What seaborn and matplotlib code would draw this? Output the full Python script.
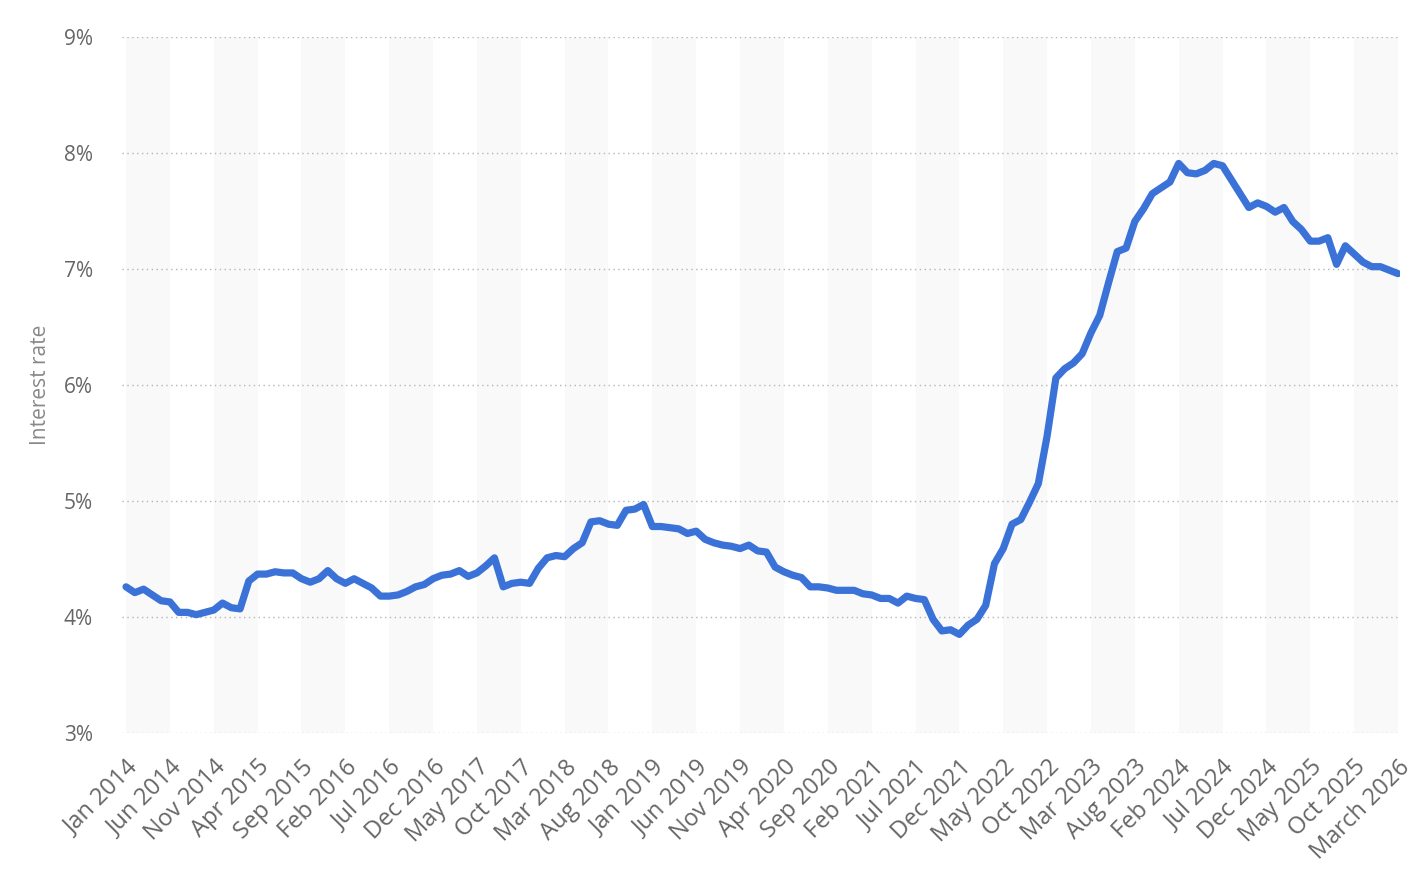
import matplotlib
matplotlib.use("Agg")
import matplotlib.pyplot as plt
import seaborn as sns
import pandas as pd
import numpy as np

# Monthly interest rate values (%), Jan 2014 - March 2026 (146 observations)
rates = [
    4.26, 4.21, 4.24, 4.19, 4.14, 4.13, 4.04, 4.04, 4.02, 4.04,
    4.06, 4.12, 4.08, 4.07, 4.31, 4.37, 4.37, 4.39, 4.38, 4.38,
    4.33, 4.30, 4.33, 4.40, 4.33, 4.29, 4.33, 4.29, 4.25, 4.18,
    4.18, 4.19, 4.22, 4.26, 4.28, 4.33, 4.36, 4.37, 4.40, 4.35,
    4.38, 4.44, 4.51, 4.26, 4.29, 4.30, 4.29, 4.42, 4.51, 4.53,
    4.52, 4.59, 4.64, 4.82, 4.83, 4.80, 4.79, 4.92, 4.93, 4.97,
    4.78, 4.78, 4.77, 4.76, 4.72, 4.74, 4.67, 4.64, 4.62, 4.61,
    4.59, 4.62, 4.57, 4.56, 4.43, 4.39, 4.36, 4.34, 4.26, 4.26,
    4.25, 4.23, 4.23, 4.23, 4.20, 4.19, 4.16, 4.16, 4.12, 4.18,
    4.16, 4.15, 3.98, 3.88, 3.89, 3.85, 3.93, 3.98, 4.10, 4.46,
    4.59, 4.80, 4.84, 4.99, 5.15, 5.56, 6.06, 6.14, 6.19, 6.27,
    6.45, 6.60, 6.88, 7.15, 7.18, 7.41, 7.52, 7.65, 7.70, 7.75,
    7.91, 7.83, 7.82, 7.85, 7.91, 7.89, 7.77, 7.65, 7.53, 7.57,
    7.54, 7.49, 7.53, 7.41, 7.34, 7.24, 7.24, 7.27, 7.04, 7.20,
    7.13, 7.06, 7.02, 7.02, 6.99, 6.96,
]

tick_labels = [
    "Jan 2014", "Jun 2014", "Nov 2014", "Apr 2015", "Sep 2015", "Feb 2016",
    "Jul 2016", "Dec 2016", "May 2017", "Oct 2017", "Mar 2018", "Aug 2018",
    "Jan 2019", "Jun 2019", "Nov 2019", "Apr 2020", "Sep 2020", "Feb 2021",
    "Jul 2021", "Dec 2021", "May 2022", "Oct 2022", "Mar 2023", "Aug 2023",
    "Feb 2024", "Jul 2024", "Dec 2024", "May 2025", "Oct 2025", "March 2026",
]
y_ticks = [3, 4, 5, 6, 7, 8, 9]

df = pd.DataFrame({"idx": np.arange(len(rates)), "rate": rates})
tick_step = 5
tick_pos = [i * tick_step for i in range(len(tick_labels))]

sns.set_theme(style="white")
plt.rcParams["font.family"] = ["Open Sans", "DejaVu Sans"]

fig = plt.figure(figsize=(14.18, 8.90), dpi=100)
ax = fig.add_axes([122 / 1418, 1 - 733 / 890, (1400 - 122) / 1418, (733 - 37) / 890])

# alternating background bands
for k in range(0, len(tick_pos) - 1, 2):
    ax.axvspan(tick_pos[k], tick_pos[k + 1], color="#f9f9fa", zorder=0, lw=0)

sns.lineplot(data=df, x="idx", y="rate", ax=ax, color="#3a72d8", linewidth=5.2,
             solid_capstyle="round", solid_joinstyle="round", zorder=3)

ax.set_xlim(-0.46, len(rates) - 1 + 0.23)
ax.set_ylim(3, 9)
ax.set_yticks(y_ticks)
ax.set_yticklabels([f"{v}%" for v in y_ticks])
ax.set_xticks(tick_pos)
ax.set_xticklabels(tick_labels, rotation=45, ha="right", rotation_mode="anchor")

ax.yaxis.grid(True, linestyle=(0, (1, 2.5)), color="#b5b5b5", linewidth=1.0)
ax.xaxis.grid(False)
for s in ax.spines.values():
    s.set_visible(False)

ax.tick_params(axis="y", length=0, pad=21, labelsize=15, labelcolor="#666666")
ax.tick_params(axis="x", length=0, pad=16, labelsize=17, labelcolor="#666666")
ax.set_xlabel("")
ax.set_ylabel("Interest rate", fontsize=15, color="#888888", labelpad=9)

fig.savefig("out.png", dpi=100, facecolor="white")
